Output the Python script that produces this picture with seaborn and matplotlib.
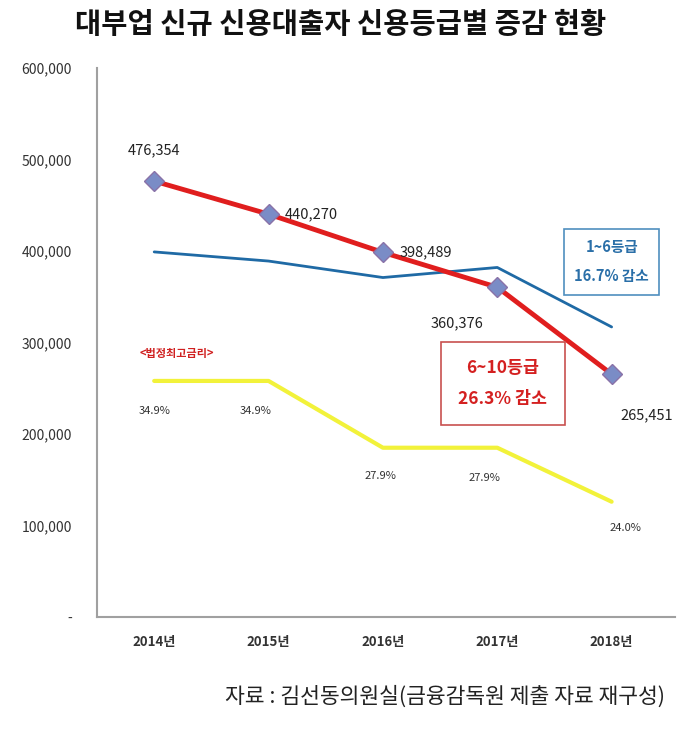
import pandas as pd
import matplotlib.pyplot as plt
import seaborn as sns

# 데이터
years = ['2014년', '2015년', '2016년', '2017년', '2018년']
low_grade = [476354, 440270, 398489, 360376, 265451]      # 6~10등급
high_grade = [399000, 389000, 371000, 382000, 317000]     # 1~6등급
rate_line = [258000, 258000, 185000, 185000, 126000]      # 법정최고금리 표시선 (차트 눈금 기준)
rate_labels = ['34.9%', '34.9%', '27.9%', '27.9%', '24.0%']

df = pd.DataFrame({'year': years, 'low': low_grade, 'high': high_grade, 'rate': rate_line})

sns.set_theme(style='white')
plt.rcParams['font.family'] = ['Noto Sans CJK KR', 'DejaVu Sans']

fig = plt.figure(figsize=(7, 7.47), dpi=100)
ax = fig.add_axes([0.1386, 0.174, 0.825, 0.735])

sns.lineplot(data=df, x='year', y='rate', ax=ax, color='#f2f23a', lw=3, sort=False)
sns.lineplot(data=df, x='year', y='high', ax=ax, color='#1f6aa5', lw=2, sort=False)
sns.lineplot(data=df, x='year', y='low', ax=ax, color='#e01e1e', lw=3.5, sort=False,
             marker='D', markersize=10, markerfacecolor='#7a8cc6', markeredgecolor='#8a72a8',
             markeredgewidth=1)

ax.set_ylim(0, 600000)
ax.set_xlim(-0.5, 4.55)
ax.set_yticks(range(0, 600001, 100000))
ax.set_yticklabels(['-' if v == 0 else f'{v:,}' for v in range(0, 600001, 100000)],
                   fontsize=10, color='#333333')
ax.tick_params(axis='x', labelsize=9.5, colors='#333333', pad=7)
ax.tick_params(axis='y', pad=12)
for lbl in ax.get_xticklabels():
    lbl.set_fontweight('bold')
ax.set_xlabel('')
ax.set_ylabel('')
for s in ['top', 'right']:
    ax.spines[s].set_visible(False)
for s in ['left', 'bottom']:
    ax.spines[s].set_color('#a0a0a0')
    ax.spines[s].set_linewidth(1.5)

# 6~10등급 값 라벨
offsets = [(0, 22, 'center'), (12, 0, 'left'), (12, 0, 'left'), (-10, -26, 'right'), (6, -30, 'left')]
for i, (v, (dx, dy, ha)) in enumerate(zip(low_grade, offsets)):
    ax.annotate(f'{v:,}', (i, v), xytext=(dx, dy), textcoords='offset points',
                ha=ha, va='center', fontsize=10.5, color='#222222')

# 금리 라벨
rate_off = [(0, -22), (-9, -22), (-2, -20), (-9, -22), (10, -19)]
for i, (v, lab, (dx, dy)) in enumerate(zip(rate_line, rate_labels, rate_off)):
    ax.annotate(lab, (i, v), xytext=(dx, dy), textcoords='offset points',
                ha='center', va='center', fontsize=8, color='#333333')

ax.text(0.2, 288000, '<법정최고금리>', fontsize=8, color='#d02020', fontweight='bold',
        ha='center', va='center')

ax.text(4.0, 388000, '1~6등급\n16.7% 감소', fontsize=10.5, color='#2a6fa8', fontweight='bold',
        ha='center', va='center', linespacing=2.0,
        bbox=dict(boxstyle='square,pad=0.7', fc='white', ec='#4f8fbf', lw=1.2))
ax.text(3.05, 255000, '6~10등급\n26.3% 감소', fontsize=12.5, color='#d42020', fontweight='bold',
        ha='center', va='center', linespacing=1.9,
        bbox=dict(boxstyle='square,pad=1.0', fc='white', ec='#c8504f', lw=1.2))

fig.text(0.487, 0.966, '대부업 신규 신용대출자 신용등급별 증감 현황', fontsize=20.5, fontweight='bold',
         ha='center', va='center', color='#111111')
fig.text(0.95, 0.067, '자료 : 김선동의원실(금융감독원 제출 자료 재구성)', fontsize=15.5,
         ha='right', va='center', color='#222222')

fig.savefig('out.png', dpi=100)
